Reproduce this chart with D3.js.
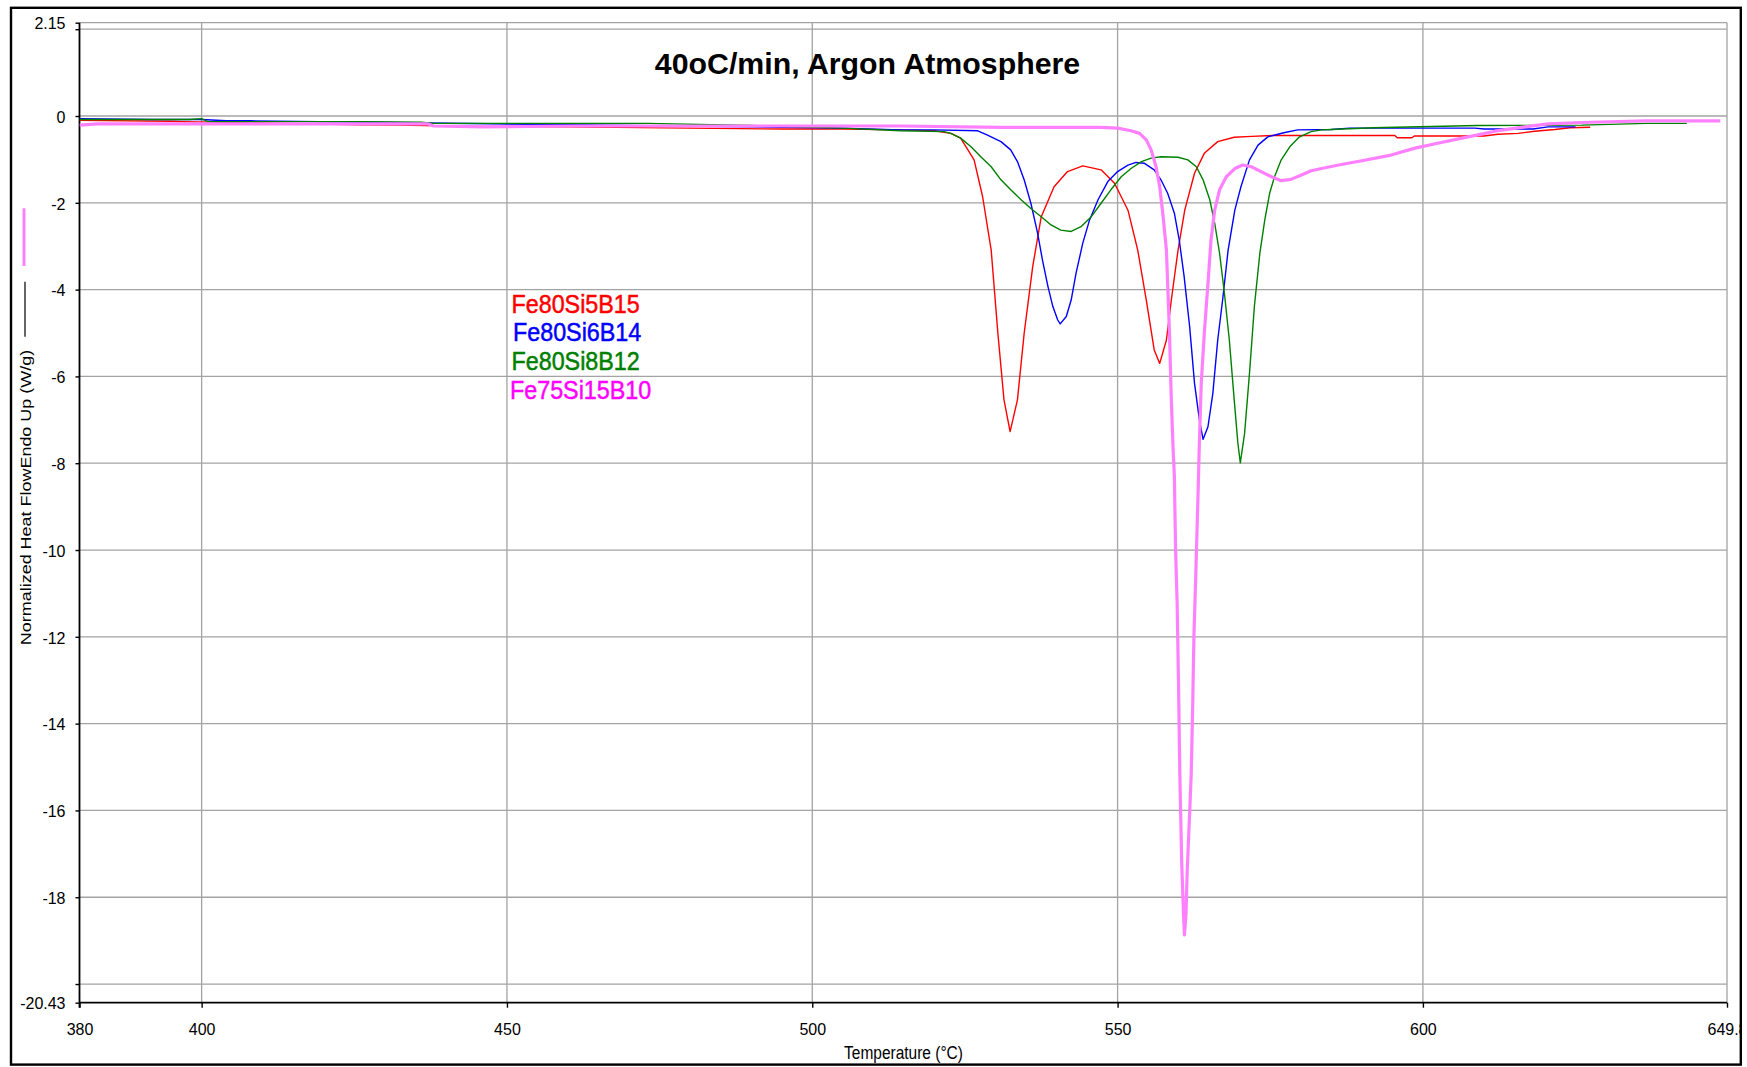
<!DOCTYPE html>
<html>
<head>
<meta charset="utf-8">
<script src="https://cdn.jsdelivr.net/npm/d3@7"></script>
<style>
  html, body { margin: 0; padding: 0; background: #ffffff; }
  svg { display: block; font-family: "Liberation Sans", Arial, sans-serif; }
</style>
</head>
<body>
<svg id="chart" width="1747" height="1067"></svg>
<script>
// DSC traces: [temperature (°C), normalized heat flow (W/g)]
const fe80Si5B15 = [
  [380,-0.10],[395,-0.12],[397,-0.13],[410,-0.16],[426,-0.20],[432,-0.21],[446,-0.24],[460,-0.25],
  [480,-0.28],[495,-0.30],[505,-0.30],[514.5,-0.32],[520,-0.34],[522.7,-0.40],[524.3,-0.51],
  [526.5,-1.01],[527.9,-1.86],[529.3,-3.09],[530.4,-5.01],[531.4,-6.54],[532.4,-7.27],[533.6,-6.54],
  [534.7,-5.01],[536.1,-3.47],[537.5,-2.32],[539.6,-1.63],[541.8,-1.28],[544.3,-1.15],[547.3,-1.24],
  [549.5,-1.55],[551.7,-2.17],[553.3,-3.09],[554.7,-4.24],[556.0,-5.39],[556.9,-5.70],[558.0,-5.16],
  [558.8,-4.24],[559.9,-3.09],[561.0,-2.17],[562.6,-1.32],[564.2,-0.86],[566.4,-0.59],[569.1,-0.49],
  [572,-0.47],[575.4,-0.45],[595.4,-0.45],[595.8,-0.50],[598.2,-0.50],[598.6,-0.46],[610,-0.46],
  [612.3,-0.42],[615.6,-0.40],[618.3,-0.35],[621.6,-0.31],[624.1,-0.27],[627.4,-0.26]
];
const fe80Si6B14 = [
  [380,-0.06],[392,-0.08],[400,-0.08],[404,-0.11],[408,-0.11],[430,-0.15],[460,-0.20],[490,-0.25],
  [505,-0.28],[514.5,-0.32],[520,-0.32],[527.1,-0.34],[528.7,-0.44],[530.9,-0.59],[532.5,-0.78],
  [533.6,-1.05],[534.7,-1.47],[535.8,-2.01],[536.9,-2.70],[537.7,-3.32],[538.6,-3.93],[539.4,-4.39],
  [540.2,-4.70],[540.6,-4.79],[541.6,-4.62],[542.4,-4.24],[543.2,-3.62],[544.3,-2.93],[545.4,-2.40],
  [546.8,-1.93],[548.4,-1.51],[550.0,-1.28],[551.7,-1.13],[553.0,-1.07],[554.4,-1.09],[556.0,-1.24],
  [557.1,-1.47],[558.2,-1.78],[559.3,-2.24],[560.1,-2.86],[560.9,-3.70],[561.8,-4.85],[562.6,-6.16],
  [563.4,-7.00],[564.0,-7.45],[564.8,-7.16],[565.6,-6.39],[566.4,-5.16],[567.2,-4.24],[568.1,-3.09],
  [569.2,-2.17],[570.2,-1.63],[571.6,-1.01],[573.0,-0.67],[574.6,-0.48],[577.4,-0.38],[579.5,-0.32],
  [585,-0.31],[588,-0.28],[608.5,-0.28],[610,-0.30],[618,-0.30],[620.5,-0.25],[625,-0.25]
];
const fe80Si8B12 = [
  [380,-0.08],[398,-0.08],[400,-0.06],[401,-0.13],[426,-0.13],[436,-0.14],[438,-0.17],[473,-0.17],
  [490,-0.22],[505,-0.28],[514.5,-0.34],[521.6,-0.36],[522.7,-0.40],[524.3,-0.51],[526.0,-0.71],
  [527.6,-0.94],[529.3,-1.17],[530.9,-1.47],[532.5,-1.70],[534.2,-1.93],[535.8,-2.13],[537.5,-2.32],
  [539.1,-2.51],[540.7,-2.63],[542.4,-2.66],[544.0,-2.55],[545.7,-2.32],[547.3,-2.01],[548.9,-1.70],
  [550.6,-1.40],[552.2,-1.21],[553.9,-1.05],[555.5,-0.97],[557.1,-0.94],[559.9,-0.95],[561.5,-1.01],
  [562.9,-1.17],[564.0,-1.47],[565.1,-1.93],[565.9,-2.47],[566.7,-3.16],[567.5,-4.09],[568.3,-5.16],
  [569.1,-6.54],[569.7,-7.54],[570.1,-7.99],[570.8,-7.31],[571.6,-5.93],[572.4,-4.39],[573.3,-3.16],
  [574.1,-2.40],[574.9,-1.78],[575.7,-1.40],[576.8,-1.01],[578.2,-0.71],[579.8,-0.48],[581.7,-0.36],
  [583.4,-0.32],[585,-0.31],[591.8,-0.27],[609,-0.22],[626,-0.21],[636.6,-0.17],[643.2,-0.17]
];
const fe75Si15B10 = [
  [380,-0.21],[383,-0.18],[437,-0.18],[438,-0.23],[446,-0.25],[460,-0.23],[514.5,-0.23],[530.9,-0.26],
  [547.3,-0.26],[550.0,-0.28],[552.2,-0.34],[553.6,-0.40],[554.7,-0.55],[555.5,-0.78],[556.3,-1.17],
  [556.9,-1.63],[557.4,-2.24],[558.0,-3.09],[558.2,-3.86],[558.5,-5.01],[558.8,-6.54],[559.1,-7.70],
  [559.3,-8.30],[559.5,-10.0],[559.75,-11.2],[559.97,-13.0],[560.2,-15.2],[560.5,-17.2],[560.8,-18.4],
  [560.95,-18.87],[561.2,-18.4],[561.4,-17.4],[561.7,-16.4],[562.05,-15.2],[562.3,-13.6],[562.5,-12.0],
  [562.8,-10.6],[563.0,-9.6],[563.2,-8.6],[563.4,-7.5],[563.7,-6.16],[564.2,-5.01],[564.8,-3.86],
  [565.3,-2.86],[565.9,-2.17],[566.7,-1.70],[567.8,-1.40],[569.2,-1.21],[570.5,-1.13],[571.9,-1.17],
  [573.5,-1.28],[575.2,-1.40],[576.8,-1.49],[578.4,-1.46],[580.1,-1.36],[581.7,-1.26],[583.4,-1.21],
  [586.2,-1.13],[590,-1.03],[594.8,-0.90],[598.7,-0.74],[603.0,-0.61],[607.4,-0.48],[611.8,-0.35],
  [616.7,-0.25],[620.5,-0.18],[626,-0.15],[636.6,-0.11],[648.7,-0.11]
];

const seriesNames  = ["Fe80Si5B15", "Fe80Si6B14", "Fe80Si8B12", "Fe75Si15B10"];
const seriesData   = [fe80Si5B15, fe80Si6B14, fe80Si8B12, fe75Si15B10];
const seriesColors = ["#ff0000", "#0000ff", "#008000", "#ff80ff"];
const legendColors = ["#ff0000", "#0000ff", "#008000", "#ff00ff"];

const xDomain = [380, 649.8];
const yDomain = [-20.43, 2.15];
const xTickValues = [380, 400, 450, 500, 550, 600, 649.8];
const xGridValues = [400, 450, 500, 550, 600, 649.8];
const yTickValues = [2.15, 2, 0, -2, -4, -6, -8, -10, -12, -14, -16, -18, -20, -20.43];
const yGridValues = [2.15, 2, 0, -2, -4, -6, -8, -10, -12, -14, -16, -18, -20];
const yUnlabeled  = [2, -20];

const chartTitle = "40oC/min, Argon Atmosphere";
const xTitle = "Temperature (°C)";
const yTitle = "Normalized Heat FlowEndo Up (W/g)";

const svg = d3.select("#chart");
const W = 1747, H = 1067;
const plot = { left: 79.5, right: 1727, top: 22.7, bottom: 1002.7 };

const x = d3.scaleLinear().domain(xDomain).range([plot.left, plot.right]);
const y = d3.scaleLinear().domain(yDomain).range([plot.bottom, plot.top]);

svg.append("rect").attr("width", W).attr("height", H).attr("fill", "#fff");

const defs = svg.append("defs");
defs.append("clipPath").attr("id", "frameClip")
  .append("rect").attr("x", 12).attr("y", 9).attr("width", 1728).attr("height", 1055);
defs.append("clipPath").attr("id", "plotClip")
  .append("rect").attr("x", plot.left).attr("y", plot.top - 2)
  .attr("width", plot.right - plot.left + 2).attr("height", plot.bottom - plot.top + 2);

const root = svg.append("g").attr("clip-path", "url(#frameClip)");
const gridColor = "#a3a3a3";

// grid
const grid = root.append("g");
grid.selectAll("line.h").data(yGridValues).join("line")
  .attr("x1", plot.left).attr("x2", plot.right)
  .attr("y1", d => y(d)).attr("y2", d => y(d))
  .attr("stroke", gridColor).attr("stroke-width", 1.3);
grid.selectAll("line.v").data(xGridValues).join("line")
  .attr("y1", plot.top).attr("y2", plot.bottom)
  .attr("x1", d => x(d)).attr("x2", d => x(d))
  .attr("stroke", gridColor).attr("stroke-width", 1.3);

// axes
const tickFont = 16, tickStretch = 1.08;
const yAxis = d3.axisLeft(y).tickValues(yTickValues).tickSize(4).tickSizeOuter(0)
  .tickFormat(d => yUnlabeled.includes(d) ? "" : String(d));
const gy = root.append("g").attr("transform", `translate(${plot.left},0)`).call(yAxis);
gy.select(".domain").remove();
gy.selectAll(".tick line").attr("stroke", "#000").attr("stroke-width", 1.4);
gy.selectAll(".tick text")
  .attr("x", null).attr("dy", null).attr("y", 0)
  .attr("text-anchor", "end")
  .attr("font-size", tickFont).attr("fill", "#000")
  .attr("font-family", "Liberation Sans, Arial, sans-serif")
  .attr("transform", `translate(-14, ${0.716 * tickFont * tickStretch / 2}) scale(1, ${tickStretch})`);

const xAxis = d3.axisBottom(x).tickValues(xTickValues).tickSize(5).tickSizeOuter(0)
  .tickFormat(d => String(d));
const gx = root.append("g").attr("transform", `translate(0,${plot.bottom})`).call(xAxis);
gx.select(".domain").remove();
gx.selectAll(".tick line").attr("stroke", "#000").attr("stroke-width", 1.4);
gx.selectAll(".tick text")
  .attr("y", 0).attr("dy", null)
  .attr("font-size", tickFont).attr("fill", "#000")
  .attr("font-family", "Liberation Sans, Arial, sans-serif")
  .attr("transform", `translate(0, 32.3) scale(1, ${tickStretch})`);

// axis lines
root.append("line").attr("x1", plot.left).attr("x2", plot.left)
  .attr("y1", plot.top).attr("y2", plot.bottom + 5)
  .attr("stroke", "#000").attr("stroke-width", 1.8);
root.append("line").attr("x1", plot.left).attr("x2", plot.right)
  .attr("y1", plot.bottom).attr("y2", plot.bottom)
  .attr("stroke", "#000").attr("stroke-width", 1.8);

// traces
const line = d3.line().x(d => x(d[0])).y(d => y(d[1])).curve(d3.curveLinear);
const traces = root.append("g").attr("clip-path", "url(#plotClip)");
seriesData.forEach((data, i) => {
  traces.append("path")
    .datum(data)
    .attr("d", line)
    .attr("fill", "none")
    .attr("stroke", seriesColors[i])
    .attr("stroke-width", i === 3 ? 3.2 : 1.4)
    .attr("stroke-linejoin", "round");
});

// legend
const legendX = [511.5, 513, 511.5, 510];
const legendY = [312.7, 340.7, 370, 399.3];
const lg = root.append("g");
seriesNames.forEach((name, i) => {
  lg.append("text")
    .attr("transform", `translate(${legendX[i]},${legendY[i]}) scale(1,1.13)`)
    .attr("font-size", 23.3)
    .attr("fill", legendColors[i])
    .attr("stroke", legendColors[i])
    .attr("stroke-width", 0.45)
    .text(name);
});

// title
root.append("text")
  .attr("x", 867.5).attr("y", 74.3)
  .attr("text-anchor", "middle")
  .attr("font-size", 30.3).attr("font-weight", "bold").attr("fill", "#000")
  .text(chartTitle);

// x axis title
root.append("text")
  .attr("transform", "translate(903.5,1059) scale(1,1.15)")
  .attr("text-anchor", "middle")
  .attr("font-size", 15.5).attr("fill", "#000")
  .text(xTitle);

// y axis title with its line sample markers
root.append("text")
  .attr("transform", "translate(31,497.5) scale(1,1.248) rotate(-90)")
  .attr("text-anchor", "middle")
  .attr("font-size", 14.4).attr("fill", "#000")
  .text(yTitle);
root.append("line").attr("x1", 25).attr("x2", 25).attr("y1", 281.7).attr("y2", 336.7)
  .attr("stroke", "#000").attr("stroke-width", 1.2);
root.append("line").attr("x1", 24).attr("x2", 24).attr("y1", 208.3).attr("y2", 266)
  .attr("stroke", "#ff80ff").attr("stroke-width", 3);

// outer frame
svg.append("rect")
  .attr("x", 11).attr("y", 7.8).attr("width", 1729.8).attr("height", 1056.8)
  .attr("fill", "none").attr("stroke", "#000").attr("stroke-width", 2.4);
</script>
</body>
</html>
